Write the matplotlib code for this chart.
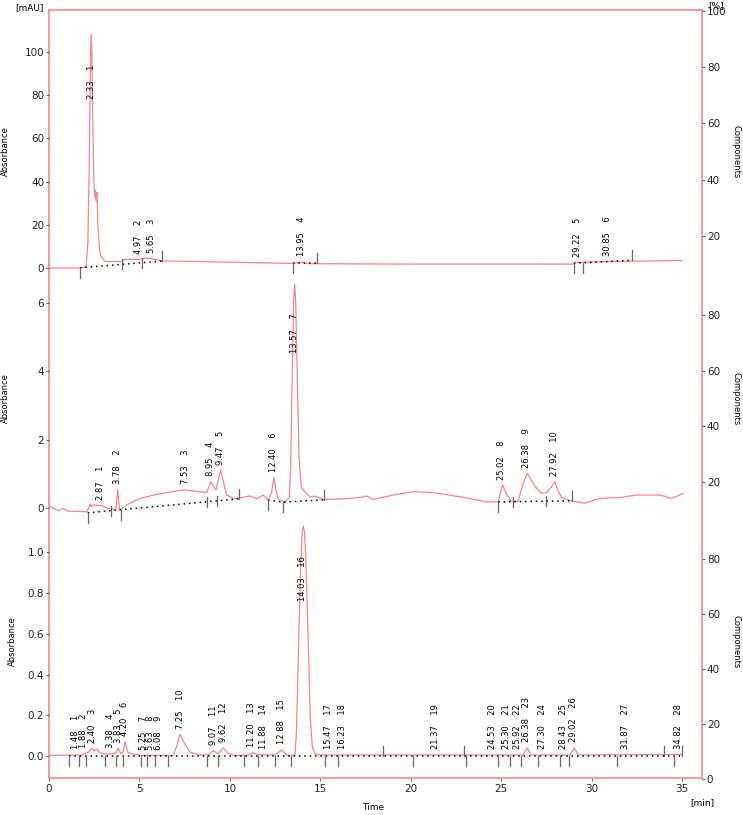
import numpy as np
import matplotlib
matplotlib.use("Agg")
import matplotlib.pyplot as plt

# --- chromatogram 1 (top), absorbance in mAU ---
t1 = [0, 1.7, 2.05, 2.15, 2.22, 2.28, 2.31, 2.34, 2.37, 2.41, 2.46, 2.5, 2.53, 2.56, 2.6, 2.65,
      2.7, 2.8, 2.9, 3.1, 4.0, 4.2, 5.0, 5.3, 5.6, 5.8, 6.3, 10.0, 13.5, 13.8, 13.95, 14.1,
      14.4, 20.0, 25.0, 28.95, 29.1, 30.0, 32.0, 35.0]
y1 = [0, 0, 0.5, 12, 45, 85, 102, 108, 100, 75, 48, 37, 33, 36, 31, 35,
      20, 8, 5, 3, 3, 4, 4, 4.5, 4.5, 4, 3.3, 2.7, 2.1, 2.5, 2.8, 2.4,
      2.0, 1.8, 1.8, 1.8, 2.6, 2.8, 3.1, 3.5]
rt1 = [2.33, 4.97, 5.65, 13.95, 29.22, 30.85]
base1 = [[(1.71, 0.1), (6.23, 3.2)], [(13.51, 2.2), (14.84, 2.2)], [(29.02, 2.2), (32.21, 3.6)]]
marks1 = [(1.71, -1), (4.02, 0), (5.16, 0), (6.23, 1), (13.51, -1), (14.84, 1),
          (29.02, -1), (29.54, -1), (32.21, 1)]

# --- chromatogram 2 (middle) ---
t2 = [0.05, 0.52, 0.76, 1.07, 1.6, 2.08, 2.2, 2.27, 2.35, 2.45, 2.91, 3.2, 3.46, 3.7, 3.8, 3.9,
      4.29, 5.03, 5.95, 7.24, 7.5, 8.3, 8.72, 8.94, 9.23, 9.49, 9.82, 10.19, 10.6, 11.1, 11.5,
      11.85, 12.12, 12.3, 12.44, 12.55, 12.68, 13.05, 13.28, 13.36, 13.45, 13.52, 13.58, 13.64,
      13.72, 13.82, 13.95, 14.15, 14.43, 14.7, 15.16, 16.27, 17.19, 17.56, 17.93, 19.03, 20.14,
      21.24, 22.72, 24.2, 24.84, 24.95, 25.08, 25.3, 25.58, 25.94, 26.2, 26.44, 26.77, 27.0,
      27.23, 27.5, 27.75, 27.97, 28.15, 28.34, 28.89, 29.63, 30.46, 31.56, 32.49, 33.78, 34.42,
      35.06]
y2 = [0.04, -0.08, -0.01, -0.09, -0.1, -0.11, 0.0, 0.12, 0.04, 0.09, 0.07, 0.0, -0.04, -0.02, 0.53, -0.06,
      0.09, 0.28, 0.4, 0.51, 0.53, 0.48, 0.45, 0.77, 0.53, 1.11, 0.38, 0.28, 0.3, 0.35, 0.27,
      0.38, 0.23, 0.45, 0.9, 0.5, 0.25, 0.18, 0.3, 1.2, 4.0, 6.0, 6.56, 6.0,
      4.0, 1.5, 0.6, 0.48, 0.32, 0.35, 0.25, 0.27, 0.31, 0.35, 0.25, 0.38, 0.48,
      0.45, 0.33, 0.18, 0.18, 0.45, 0.67, 0.4, 0.18, 0.2, 0.7, 1.02, 0.72, 0.55,
      0.43, 0.45, 0.6, 0.77, 0.5, 0.31, 0.21, 0.14, 0.28, 0.31, 0.38, 0.38, 0.28,
      0.43]
rt2 = [2.87, 3.78, 7.53, 8.95, 9.47, 12.40, 13.57, 25.02, 26.38, 27.92]
base2 = [[(2.14, -0.14), (10.52, 0.27)], [(12.12, 0.23), (12.92, 0.17), (15.2, 0.24)],
         [(24.84, 0.18), (28.93, 0.21)]]
marks2 = [(2.14, -1), (3.43, 0), (3.96, -1), (8.72, 0), (9.27, 0), (10.52, 1), (12.12, -1),
          (12.92, -1), (15.2, 1), (24.84, -1), (25.67, 0), (27.46, 0), (28.93, 1)]

# --- chromatogram 3 (bottom) ---
t3 = [0, 1.8, 1.97, 2.2, 2.36, 2.5, 2.63, 2.82, 3.1, 3.46, 3.7, 3.83, 3.98, 4.1, 4.2, 4.35,
      4.6, 5.12, 6.87, 7.05, 7.24, 7.5, 7.79, 8.25, 8.81, 9.08, 9.36, 9.64, 9.9, 10.27, 11.0,
      11.26, 11.6, 12.5, 12.86, 13.13, 13.6, 13.68, 13.8, 13.92, 14.0, 14.06, 14.12, 14.2,
      14.32, 14.44, 14.55, 14.7, 14.98, 26.2, 26.44, 26.66, 28.8, 29.04, 29.26, 35.0]
y3 = [0.003, 0.005, 0.01, 0.02, 0.038, 0.025, 0.033, 0.016, 0.01, 0.01, 0.015, 0.038, 0.01, 0.02, 0.07, 0.02,
      0.01, 0.003, 0.003, 0.045, 0.107, 0.06, 0.02, 0.005, 0.006, 0.026, 0.01, 0.04, 0.013, 0.003, 0.004,
      0.016, 0.006, 0.005, 0.03, 0.005, 0.003, 0.12, 0.55, 0.95, 1.1, 1.13, 1.1, 0.97,
      0.6, 0.2, 0.05, 0.01, 0.005, 0.005, 0.04, 0.005, 0.005, 0.04, 0.005, 0.008]
rt3 = [1.48, 1.88, 2.40, 3.38, 3.83, 4.20, 5.25, 5.63, 6.08, 7.25, 9.07, 9.62, 11.20, 11.88,
       12.88, 14.03, 15.47, 16.23, 21.37, 24.53, 25.30, 25.92, 26.38, 27.30, 28.43, 29.02,
       31.87, 34.82]
base3 = [[(1.1, 0.0), (35.0, 0.0)]]
marks3 = [(1.1, -1), (1.64, -1), (2.02, -1), (3.12, -1), (3.7, -1), (4.08, -1), (5.08, -1),
          (5.4, -1), (5.88, -1), (6.6, -1), (8.76, -1), (9.36, -1), (10.8, -1), (11.57, -1),
          (12.49, -1), (13.36, -1), (15.26, -1), (15.95, -1), (18.48, 1), (20.1, -1),
          (22.93, 1), (23.04, -1), (24.84, -1), (25.49, -1), (26.07, -1), (27.05, -1),
          (28.23, -1), (28.74, -1), (31.39, -1), (34.0, 1), (34.55, -1), (35.0, 1)]

PINK = '#ef8a90'
LINE = '#f2858c'
GRAY = '#666666'
W, H = 743, 815
XMAX = 36.1

fig = plt.figure(figsize=(W / 100, H / 100), dpi=100)


def frac(left_px, top_px, right_px, bottom_px):
    return [left_px / W, 1 - bottom_px / H, (right_px - left_px) / W, (bottom_px - top_px) / H]


# outer pink frame with the time axis
ax0 = fig.add_axes(frac(49, 10, 702, 778))
ax0.set_xlim(0, XMAX)
ax0.set_ylim(0, 1)
ax0.set_yticks([])
ax0.set_xticks(range(0, 36, 5))
for s in ax0.spines.values():
    s.set_color(PINK)
    s.set_linewidth(1.2)
ax0.tick_params(axis='x', length=2.5, color=GRAY, labelsize=7.5, pad=2, labelcolor='#222222')
fig.text(373 / W, 1 - 807 / H, 'Time', ha='center', va='center', fontsize=6.5)
fig.text(702 / W, 1 - 803 / H, '[min]', ha='center', va='center', fontsize=6.5)
fig.text(29 / W, 1 - 8 / H, '[mAU]', ha='center', va='center', fontsize=6.5)
fig.text(716 / W, 1 - 6 / H, '[%]', ha='center', va='center', fontsize=6.5)


def clean(ax):
    ax.patch.set_alpha(0)
    for s in ax.spines.values():
        s.set_visible(False)
    ax.set_xlim(0, XMAX)
    ax.set_xticks([])


def draw_panel(rect, ylim, yticks, fmt, rticks, t, y, rts, bases, marks, lab_x):
    ax = fig.add_axes(rect)
    clean(ax)
    ax.set_ylim(*ylim)
    ax.set_yticks(yticks)
    ax.set_yticklabels([fmt.format(v) for v in yticks])
    ax.tick_params(axis='y', length=2.5, color=GRAY, labelsize=7.5, pad=1, labelcolor='#222222')
    ax.set_ylabel('Absorbance', fontsize=6)
    ax.yaxis.set_label_coords(lab_x, 0.5)

    ax.plot(t, y, color=LINE, lw=0.9)

    # integration baselines
    for seg in bases:
        st, sy = zip(*seg)
        ax.plot(st, sy, color='black', lw=1.1, ls=(0, (1, 2.5)))

    # peak start / end ticks
    span = ylim[1] - ylim[0]
    L = 10.0 / (rect[3] * H) * span
    for tm, kind in marks:
        yb = None
        for seg in bases:
            st, sy = zip(*seg)
            if st[0] - 0.01 <= tm <= st[-1] + 0.01:
                yb = np.interp(tm, st, sy)
        if yb is None:
            yb = np.interp(tm, t, y)
        if kind < 0:
            y0, y1_ = yb - L, yb
        elif kind > 0:
            y0, y1_ = yb, yb + L
        else:
            y0, y1_ = yb - L / 2, yb + L / 2
        ax.plot([tm, tm], [y0, y1_], color=GRAY, lw=0.9)

    # peak labels
    ta = np.array(t)
    ya = np.array(y)
    for n, rt in enumerate(rts, start=1):
        win = np.abs(ta - rt) < 0.12
        top = ya[win].max() if win.any() else np.interp(rt, ta, ya)
        top = max(top, np.interp(rt, ta, ya))
        txt = '{:.2f}    {}'.format(rt, n)
        if top > 0.5 * ylim[1]:
            ax.text(rt, 0.87 * top, txt, rotation=90, ha='center', va='top', fontsize=6)
        else:
            ax.annotate(txt, (rt, top), xytext=(0, 4), textcoords='offset points',
                        rotation=90, ha='center', va='bottom', fontsize=6)

    axr = ax.twinx()
    clean(axr)
    axr.set_ylim(0, 100)
    axr.set_yticks(rticks)
    axr.tick_params(axis='y', length=2.5, color=GRAY, labelsize=7.5, pad=1, labelcolor='#222222')
    axr.set_ylabel('Components', fontsize=6, rotation=270, va='center')
    axr.yaxis.set_label_coords(1.052, 0.5)
    return ax


draw_panel(frac(49, 11, 702, 292), (-11.11, 118.98), [0, 20, 40, 60, 80, 100], '{:d}',
           [20, 40, 60, 80, 100], t1, y1, rt1, base1, marks1, -0.06)
draw_panel(frac(49, 259, 702, 538), (-0.878, 7.291), [0, 2, 4, 6], '{:d}',
           [20, 40, 60, 80], t2, y2, rt2, base2, marks2, -0.06)
draw_panel(frac(49, 504, 702, 779), (-0.113, 1.238), [0.0, 0.2, 0.4, 0.6, 0.8, 1.0], '{:.1f}',
           [0, 20, 40, 60, 80], t3, y3, rt3, base3, marks3, -0.049)

fig.savefig('out.png', dpi=100)
